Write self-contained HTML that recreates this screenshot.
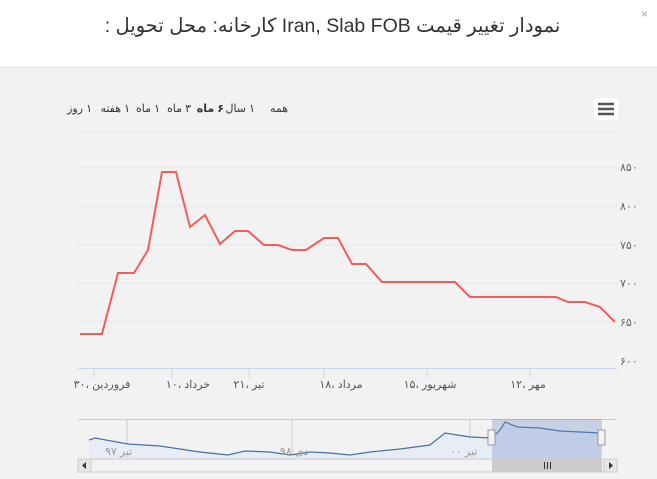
<!DOCTYPE html><html><head><meta charset="utf-8"><style>
body{margin:0;width:657px;height:479px;overflow:hidden;background:#fff;font-family:"Liberation Sans","DejaVu Sans",sans-serif;position:relative}
.r{position:absolute;font-size:11px;color:#333;white-space:nowrap;direction:rtl;top:102px}
</style></head><body>
<svg width="657" height="479" xmlns="http://www.w3.org/2000/svg" font-family="Liberation Sans, DejaVu Sans, sans-serif" style="position:absolute;left:0;top:0">
<rect x="0" y="0" width="657" height="68" fill="#fff"/>
<line x1="0" y1="67.5" x2="657" y2="67.5" stroke="#e5e5e5"/>
<text x="641" y="18" font-size="12" fill="#aaa">×</text>
<rect x="0" y="68" width="657" height="411" fill="#f2f2f2"/>
<rect x="594" y="98" width="24" height="22" rx="3" fill="#fff"/>
<g stroke="#555" stroke-width="2.5"><line x1="598" y1="104" x2="614" y2="104"/><line x1="598" y1="109" x2="614" y2="109"/><line x1="598" y1="114" x2="614" y2="114"/></g>
<g stroke="#e6e6e6"><line x1="78" y1="132" x2="617" y2="132"/><line x1="78" y1="167" x2="617" y2="167"/><line x1="78" y1="206" x2="617" y2="206"/><line x1="78" y1="245" x2="617" y2="245"/><line x1="78" y1="283" x2="617" y2="283"/><line x1="78" y1="322" x2="617" y2="322"/></g>
<line x1="78" y1="368.5" x2="617" y2="368.5" stroke="#ccd6eb"/>
<g font-size="11" fill="#666"><text x="620" y="171">۸۵۰</text><text x="620" y="210">۸۰۰</text><text x="620" y="249">۷۵۰</text><text x="620" y="287">۷۰۰</text><text x="620" y="326">۶۵۰</text><text x="620" y="365">۶۰۰</text></g>
<g stroke="#ccd6eb"><line x1="94" y1="368" x2="94" y2="378"/><line x1="172" y1="368" x2="172" y2="378"/><line x1="249" y1="368" x2="249" y2="378"/><line x1="324" y1="368" x2="324" y2="378"/><line x1="427" y1="368" x2="427" y2="378"/><line x1="530" y1="368" x2="530" y2="378"/></g>
<g font-size="11" fill="#555" text-anchor="middle"><text x="102" y="388">۳۰، فروردین</text><text x="188" y="388">۱۰، خرداد</text><text x="249" y="388">۲۱، تیر</text><text x="341" y="388">۱۸، مرداد</text><text x="430" y="388">۱۵، شهریور</text><text x="528" y="388">۱۲، مهر</text></g>
<polyline fill="none" stroke="#f45b5b" stroke-width="2" points="80,334 102,334 118,273 134,273 148,250 162,172 176,172 190,227 205,215 220,244 235,231 248,231 264,245 278,245 292,250 306,250 324,238 338,238 352,264 366,264 382,282 455,282 470,297 556,297 568,302 585,302 600,307 615,322"/>
<line x1="78" y1="419.5" x2="617" y2="419.5" stroke="#ccc"/>
<line x1="127" y1="419" x2="127" y2="459" stroke="#ccc"/><line x1="292" y1="419" x2="292" y2="459" stroke="#ccc"/><line x1="470" y1="419" x2="470" y2="459" stroke="#ccc"/>
<path d="M89,440 L95,438 L128,444 L160,446 L200,452 L228,455 L245,451 L270,452 L290,455 L310,452 L330,453 L350,455 L370,452 L400,449 L430,445 L445,433 L470,437 L492,438 L500,430 L505,422 L512,425 L518,427 L540,428 L560,431 L600,433 L600,459 L89,459Z" fill="#e8ecf5"/>
<polyline fill="none" stroke="#4572a7" stroke-width="1.2" points="89,440 95,438 128,444 160,446 200,452 228,455 245,451 270,452 290,455 310,452 330,453 350,455 370,452 400,449 430,445 445,433 470,437 492,438 500,430 505,422 512,425 518,427 540,428 560,431 600,433"/>
<rect x="492" y="419" width="110" height="40" fill="#6685c2" fill-opacity="0.3"/>
<g font-size="11" fill="#999"><text x="105" y="455">تیر ۹۷</text><text x="280" y="455">دی ۹۸</text><text x="450" y="455">تیر ۰۰</text></g>
<rect x="488" y="430" width="7" height="15" fill="#f2f2f2" stroke="#999"/><rect x="598" y="430" width="7" height="15" fill="#f2f2f2" stroke="#999"/>
<rect x="78" y="459" width="539" height="13" fill="#f2f2f2" stroke="#ccc"/>
<rect x="492" y="459" width="110" height="13" fill="#ccc"/>
<rect x="78" y="459" width="13" height="13" fill="#e6e6e6" stroke="#ccc"/><rect x="604" y="459" width="13" height="13" fill="#e6e6e6" stroke="#ccc"/>
<path d="M86,462 L82,465.5 L86,469Z M609,462 L613,465.5 L609,469Z" fill="#333"/>
<g stroke="#333"><line x1="544.5" y1="462" x2="544.5" y2="469"/><line x1="547.5" y1="462" x2="547.5" y2="469"/><line x1="550.5" y1="462" x2="550.5" y2="469"/></g>
</svg>
<div style="position:absolute;left:0;width:665px;top:14px;text-align:center;font-size:19.5px;color:#333;direction:rtl;white-space:nowrap">نمودار تغییر قیمت Iran, Slab FOB کارخانه: محل تحویل :</div>
<div class="r" style="right:565px">۱ روز</div>
<div class="r" style="right:527px">۱ هفته</div>
<div class="r" style="right:497px">۱ ماه</div>
<div class="r" style="right:466px">۳ ماه</div>
<div class="r" style="right:433px;font-weight:bold">۶ ماه</div>
<div class="r" style="right:402px">۱ سال</div>
<div class="r" style="right:369px">همه</div>
</body></html>
